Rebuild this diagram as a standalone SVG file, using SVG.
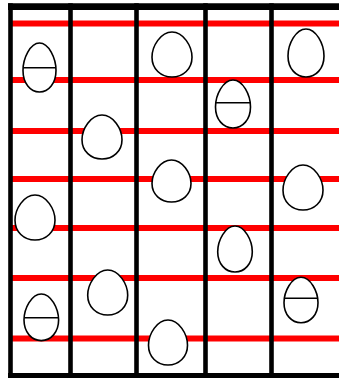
<svg xmlns="http://www.w3.org/2000/svg" width="339" height="378" viewBox="0 0 339 378">
<style>
.red{stroke:#ff0000;stroke-width:6;fill:none}
.blk{stroke:#000;fill:none}
.egg{fill:#fff;stroke:#000;stroke-width:1.6}
.mid{stroke:#000;stroke-width:1.5}
</style>
<rect width="339" height="378" fill="#fff"/>
<g id="red-lines" class="red">
<line x1="12" y1="23.5" x2="339" y2="23.5"/>
<line x1="12" y1="80" x2="339" y2="80"/>
<line x1="12" y1="131" x2="339" y2="131"/>
<line x1="12" y1="179" x2="339" y2="179"/>
<line x1="12" y1="228" x2="339" y2="228"/>
<line x1="12" y1="278" x2="339" y2="278"/>
<line x1="12" y1="338.5" x2="339" y2="338.5"/>
</g>
<g id="frame" class="blk">
<line x1="8" y1="6.7" x2="339" y2="6.7" stroke-width="6.7"/>
<line x1="8" y1="375.5" x2="339" y2="375.5" stroke-width="5"/>
<line x1="10.5" y1="3.3" x2="10.5" y2="378" stroke-width="4.6"/>
<line x1="70.5" y1="3.3" x2="70.5" y2="378" stroke-width="4.6"/>
<line x1="136.5" y1="3.3" x2="136.5" y2="378" stroke-width="4.6"/>
<line x1="205.5" y1="3.3" x2="205.5" y2="378" stroke-width="4.6"/>
<line x1="271.5" y1="3.3" x2="271.5" y2="378" stroke-width="4.6"/>
</g>
<g id="egg1"><path class="egg" d="M39.5,43 C48.74,43 56,58.19 56,70.44 C56,83.18 48.74,92 39.5,92 C30.26,92 23,83.18 23,70.44 C23,58.19 30.26,43 39.5,43Z"/><line class="mid" x1="23.3" y1="67.7" x2="55.7" y2="67.7"/></g>
<g id="egg2"><path class="egg" d="M102,115 C113.2,115 122,128.64 122,139.64 C122,151.08 113.2,159 102,159 C90.8,159 82,151.08 82,139.64 C82,128.64 90.8,115 102,115Z"/></g>
<g id="egg3"><path class="egg" d="M172,32 C183.2,32 192,45.95 192,57.2 C192,68.9 183.2,77 172,77 C160.8,77 152,68.9 152,57.2 C152,45.95 160.8,32 172,32Z"/></g>
<g id="egg4"><path class="egg" d="M171.5,160 C182.42,160 191,173.02 191,183.52 C191,194.44 182.42,202 171.5,202 C160.58,202 152,194.44 152,183.52 C152,173.02 160.58,160 171.5,160Z"/></g>
<g id="egg5"><path class="egg" d="M233,80 C242.8,80 250.5,94.88 250.5,106.88 C250.5,119.36 242.8,128 233,128 C223.2,128 215.5,119.36 215.5,106.88 C215.5,94.88 223.2,80 233,80Z"/><line class="mid" x1="215.8" y1="102.7" x2="250.2" y2="102.7"/></g>
<g id="egg6"><path class="egg" d="M306,29 C316.08,29 324,43.88 324,55.88 C324,68.36 316.08,77 306,77 C295.92,77 288,68.36 288,55.88 C288,43.88 295.92,29 306,29Z"/></g>
<g id="egg7"><path class="egg" d="M303,165 C314.2,165 323,178.95 323,190.2 C323,201.9 314.2,210 303,210 C291.8,210 283,201.9 283,190.2 C283,178.95 291.8,165 303,165Z"/></g>
<g id="egg8"><path class="egg" d="M35,195 C46.2,195 55,208.95 55,220.2 C55,231.9 46.2,240 35,240 C23.8,240 15,231.9 15,220.2 C15,208.95 23.8,195 35,195Z"/></g>
<g id="egg9"><path class="egg" d="M235,226 C244.69,226 252.3,240.26 252.3,251.76 C252.3,263.72 244.69,272 235,272 C225.31,272 217.7,263.72 217.7,251.76 C217.7,240.26 225.31,226 235,226Z"/></g>
<g id="egg10"><path class="egg" d="M107.7,270 C118.9,270 127.7,283.95 127.7,295.2 C127.7,306.9 118.9,315 107.7,315 C96.5,315 87.7,306.9 87.7,295.2 C87.7,283.95 96.5,270 107.7,270Z"/></g>
<g id="egg11"><path class="egg" d="M41.3,294 C50.99,294 58.6,308.45 58.6,320.1 C58.6,332.21 50.99,340.6 41.3,340.6 C31.61,340.6 24,332.21 24,320.1 C24,308.45 31.61,294 41.3,294Z"/><line class="mid" x1="24.3" y1="317.7" x2="58.3" y2="317.7"/></g>
<g id="egg12"><path class="egg" d="M168,320 C178.92,320 187.5,333.95 187.5,345.2 C187.5,356.9 178.92,365 168,365 C157.08,365 148.5,356.9 148.5,345.2 C148.5,333.95 157.08,320 168,320Z"/></g>
<g id="egg13"><path class="egg" d="M301,277.3 C310.52,277.3 318,291.37 318,302.72 C318,314.53 310.52,322.7 301,322.7 C291.48,322.7 284,314.53 284,302.72 C284,291.37 291.48,277.3 301,277.3Z"/><line class="mid" x1="284.3" y1="298.3" x2="317.7" y2="298.3"/></g>
</svg>
